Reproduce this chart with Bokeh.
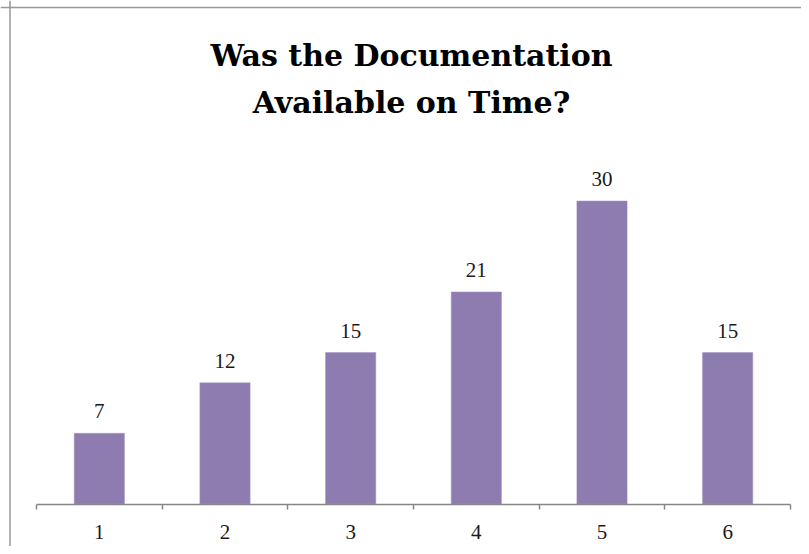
from bokeh.plotting import figure
from bokeh.models import (ColumnDataSource, LinearAxis, FixedTicker, Range1d,
                          Span, Label, LabelSet)
from bokeh.embed import file_html
from bokeh.resources import INLINE

# ---- data ----
categories = [1, 2, 3, 4, 5, 6]
values = [7, 12, 15, 21, 30, 15]
title_lines = ["Was the Documentation", "Available on Time?"]
category_bounds = [c - 0.5 for c in categories] + [categories[-1] + 0.5]

BAR_COLOR = "#8E7CB0"
AXIS_COLOR = "#868686"
TEXT_COLOR = "#1a1a1a"

W, H = 801, 546
px_x = 754 / 6.0           # pixels per category
px_y = 10.1                # pixels per unit
AX_L, AX_R, BASE = 36, 790, 503.5
x0 = 0.5 - AX_L / px_x
x1 = 6.5 + (W - AX_R) / px_x
y1 = BASE / px_y
y0 = -(H - BASE) / px_y

p = figure(width=W, height=H, output_backend="svg", toolbar_location=None,
           x_range=Range1d(x0, x1), y_range=Range1d(y0, y1),
           min_border_left=0, min_border_right=0, min_border_top=0, min_border_bottom=0,
           x_axis_type=None, y_axis_type=None)
p.grid.visible = False
p.outline_line_color = None
p.background_fill_color = "white"
p.border_fill_color = "white"

src = ColumnDataSource(dict(x=categories, top=values, label=[str(v) for v in values]))

p.vbar(x="x", top="top", bottom=0, width=0.4, source=src,
       fill_color=BAR_COLOR, line_color="#a596c2", line_width=0.5)

# axis line with boundary ticks
ax = LinearAxis(fixed_location=0, ticker=FixedTicker(ticks=category_bounds),
                bounds=(category_bounds[0], category_bounds[-1]),
                major_label_text_font_size="0px", major_label_text_color=None,
                axis_line_color=AXIS_COLOR, axis_line_width=1.5,
                major_tick_line_color=AXIS_COLOR, major_tick_line_width=1.5,
                major_tick_in=0, major_tick_out=5, minor_tick_line_color=None)
p.add_layout(ax, "below")

# category labels
lab_ax = LinearAxis(fixed_location=0, ticker=FixedTicker(ticks=categories),
                    axis_line_color=None, major_tick_line_color=None,
                    minor_tick_line_color=None,
                    major_tick_in=0, major_tick_out=0,
                    major_label_standoff=21,
                    major_label_text_font="Liberation Serif",
                    major_label_text_font_size="21px",
                    major_label_text_color=TEXT_COLOR)
p.add_layout(lab_ax, "below")

# data labels
labels = LabelSet(x="x", y="top", text="label", source=src, y_offset=15,
                  text_align="center", text_baseline="alphabetic",
                  text_font="Liberation Serif", text_font_size="21px",
                  text_color=TEXT_COLOR)
p.add_layout(labels)

# chart border (left & top visible)
p.add_layout(Span(location=x0 + 9.5 / px_x, dimension="height",
                  line_color="#999999", line_width=1.5))
p.add_layout(Span(location=y1 - 7.0 / px_y, dimension="width",
                  line_color="#999999", line_width=1.5))

# title
tx = x0 + 411 / px_x
for line, mid in zip(title_lines, [54.5, 102]):
    p.add_layout(Label(x=tx, y=y1 - mid / px_y, text=line,
                       text_align="center", text_baseline="middle",
                       text_font="DejaVu Serif", text_font_style="bold",
                       text_font_size="30px", text_color="black"))

open("out.html", "w").write(file_html(p, INLINE))
